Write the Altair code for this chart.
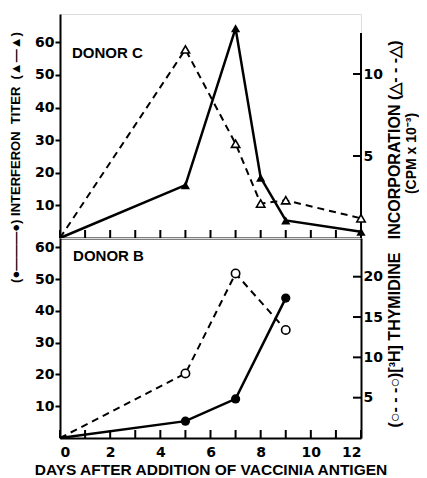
import altair as alt
import pandas as pd

# ---- data ----
# Donor C
days_c = [0, 5, 7, 8, 9, 12]
interferon_c = [0, 16.2, 64.3, 18.5, 5.4, 1.9]
thymidine_c = [0, 11.5, 5.75, 2.1, 2.3, 1.2]
# Donor B
days_b = [0, 5, 7, 9]
interferon_b = [0, 5.3, 12.3, 44.0]
thymidine_b = [0, 8.0, 20.4, 13.4]

x_tick_days = list(range(13))
x_label_days = [0, 2, 4, 6, 8, 10, 12]
left_tick_values = [10, 20, 30, 40, 50, 60]
right_tick_values_c = [5, 10]
right_tick_values_b = [5, 10, 15, 20]

x_title = "DAYS AFTER ADDITION OF VACCINIA ANTIGEN"
left_title = "(●———●) INTERFERON\u00a0\u00a0TITER\u00a0\u00a0(▲—▲)"
right_title_1 = "(○- - -○)[³H] THYMIDINE\u00a0\u00a0\u00a0INCORPORATION (△- - -△)"
right_title_2 = "(CPM x 10⁻³)"
panel_labels = ["DONOR C", "DONOR B"]

NUM_FONT = "DejaVu Sans"
TXT_FONT = "Liberation Sans"
W = 301
TICK_PX = 8
TICK_COLOR = "black"


def make_panel(days, ifn, thy, height, left_max, right_max, right_ticks,
               label, label_x, label_y, is_bottom, l_title, r_title, r_font,
               r_title_x, r_title_y, right_line_top, filled_shape, open_shape):
    df = pd.DataFrame({"day": days, "ifn": ifn, "thy": thy})
    pts = df[df["day"] > 0]
    one = pd.DataFrame({"k": [0]})

    if is_bottom:
        x_axis = alt.Axis(values=x_label_days, ticks=False, tickSize=0, domain=True,
                          domainWidth=2, domainColor="black", labelFont=NUM_FONT,
                          labelFontSize=14, labelFontWeight="bold", labelColor="black",
                          labelPadding=7, labelAngle=0, grid=False, title=x_title,
                          titleFont=TXT_FONT, titleFontSize=15.5, titleFontWeight="bold",
                          titleColor="black", titlePadding=3)
    else:
        x_axis = alt.Axis(labels=False, ticks=False, tickSize=0, domain=True,
                          domainWidth=2, domainColor="black", grid=False, title=None)
    xs = alt.Scale(domain=[0, 12], nice=False, zero=False)

    def X(f):
        return alt.X(f"{f}:Q", scale=xs, axis=x_axis)

    def XD(v):
        return alt.XDatum(v, scale=xs, axis=x_axis)

    l_axis_kw = dict(values=left_tick_values, domain=True, domainWidth=2, domainColor="black",
                     ticks=True, tickSize=5, tickWidth=2, tickColor="black",
                     labelFont=NUM_FONT, labelFontSize=14, labelFontWeight="bold",
                     labelColor="black", labelPadding=1, grid=False, orient="left")
    if l_title:
        l_axis = alt.Axis(title=l_title, titleFont=TXT_FONT, titleFontSize=13,
                          titleFontWeight="bold", titleColor="black", titleAngle=270,
                          titleX=-45, titleY=143, titleBaseline="middle",
                          titleAlign="center", **l_axis_kw)
    else:
        l_axis = alt.Axis(title=None, **l_axis_kw)
    ls = alt.Scale(domain=[0, left_max], nice=False, zero=False)

    def YL(f):
        return alt.Y(f"{f}:Q", scale=ls, axis=l_axis)

    def YLD(v):
        return alt.YDatum(v, scale=ls, axis=l_axis)

    r_axis = alt.Axis(values=right_ticks, domain=is_bottom, domainWidth=2, domainColor="black",
                      ticks=False, tickSize=0, labelFont=NUM_FONT, labelFontSize=14,
                      labelFontWeight="bold", labelColor="black", labelPadding=2,
                      grid=False, orient="right", title=r_title, titleFont=TXT_FONT,
                      titleFontSize=r_font, titleFontWeight="bold", titleColor="black",
                      titleAngle=270, titleX=r_title_x, titleY=r_title_y,
                      titleBaseline="middle", titleAlign="center")
    rs = alt.Scale(domain=[0, right_max], nice=False, zero=False)

    def YR(f):
        return alt.Y(f"{f}:Q", scale=rs, axis=r_axis)

    def YRD(v):
        return alt.YDatum(v, scale=rs, axis=r_axis)

    # tick lengths: TICK_PX pixels expressed in each scale's units
    x_tick_len = TICK_PX * left_max / height
    y_tick_len = TICK_PX * 12 / W

    left_line = alt.Chart(df).mark_line(color="black", strokeWidth=2.5).encode(
        x=X("day"), y=YL("ifn"))
    left_pts = alt.Chart(pts).mark_point(shape=filled_shape, filled=True, color="black",
                                         size=85, opacity=1).encode(x=X("day"), y=YL("ifn"))
    x_ticks = [
        alt.Chart(one).mark_rule(color=TICK_COLOR, strokeWidth=2).encode(
            x=XD(d), y=YLD(0), y2=alt.Y2Datum(x_tick_len))
        for d in x_tick_days
    ]
    txt = alt.Chart(one).mark_text(text=label, align="left", baseline="middle",
                                   font=TXT_FONT, fontSize=15, fontWeight="bold",
                                   color="black").encode(x=XD(label_x), y=YLD(label_y))
    left_group = alt.layer(left_line, *x_ticks, left_pts, txt)

    right_line = alt.Chart(df).mark_line(color="black", strokeWidth=2,
                                         strokeDash=[7, 5]).encode(x=X("day"), y=YR("thy"))
    right_pts = alt.Chart(pts).mark_point(shape=open_shape, filled=True, fill="white",
                                          stroke="black", strokeWidth=1.6, size=70,
                                          opacity=1).encode(x=X("day"), y=YR("thy"))
    r_ticks = [
        alt.Chart(one).mark_rule(color=TICK_COLOR, strokeWidth=2).encode(
            x=XD(12), x2=alt.X2Datum(12 - y_tick_len), y=YRD(v))
        for v in right_ticks
    ]
    right_layers = [right_line] + r_ticks
    if right_line_top is not None:
        rule = alt.Chart(one).mark_rule(color="black", strokeWidth=2).encode(
            x=XD(12), y=YRD(0), y2=alt.Y2Datum(right_line_top))
        right_layers.append(rule)
    right_layers.append(right_pts)
    right_group = alt.layer(*right_layers)

    return alt.layer(left_group, right_group).resolve_scale(y="independent").properties(
        width=W, height=height)


top = make_panel(days_c, interferon_c, thymidine_c, 224, 68.7, 13.66, right_tick_values_c,
                 panel_labels[0], 0.48, 56.7, False, left_title, right_title_2, 14,
                 50, 139, 12.5, "triangle-up", "triangle-up")
bottom = make_panel(days_b, interferon_b, thymidine_b, 200, 62.9, 24.8, right_tick_values_b,
                    panel_labels[1], 0.52, 57.2, True, None, right_title_1, 16,
                    33, -4.5, None, "circle", "circle")

chart = alt.vconcat(top, bottom, spacing=0, bounds="flush").properties(
    padding={"left": 0, "top": 5, "right": 0, "bottom": 0}
).configure_view(stroke=None).configure(background="white")

chart.save("out.html", embed_options={"renderer": "svg", "actions": False})
